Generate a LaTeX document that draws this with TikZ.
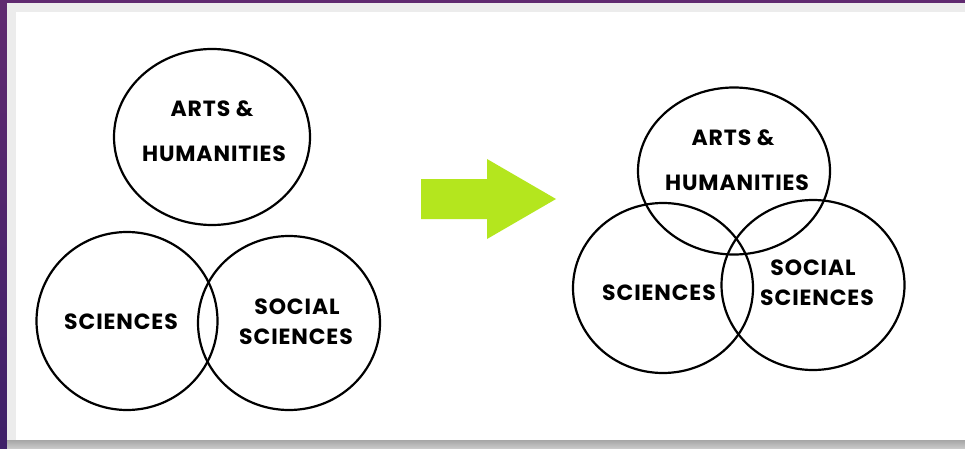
\documentclass[tikz,border=0pt]{standalone}
\usepackage{fontspec}
\setmainfont{Poppins}[LetterSpace=4]
\usetikzlibrary{shapes.geometric}
\definecolor{bgpurple}{RGB}{96,42,112}
\definecolor{bgpurpledark}{RGB}{62,32,104}
\definecolor{arrowgreen}{RGB}{180,230,30}
\definecolor{panelgray}{RGB}{236,236,236}
\tikzset{
  venn/.style={draw=black, line width=2.2pt, ellipse, inner sep=0pt},
  lbl/.style={font=\fontsize{22}{25}\selectfont\bfseries, text=black, inner sep=0pt},
}
\begin{document}
\begin{tikzpicture}[x=1pt,y=-1pt]
\useasboundingbox (0,0) rectangle (965,449);
\shade[top color=bgpurple, bottom color=bgpurpledark] (0,0) rectangle (965,449);
\fill[panelgray] (7,3) rectangle (965,440);
\shade[top color=gray!70, bottom color=gray!40] (7,440) rectangle (965,449);
\fill[white] (16,12) rectangle (965,440);
% left group
\node[venn, minimum width=196pt, minimum height=176pt] (la) at (212,137) {};
\node[venn, minimum width=181pt, minimum height=178pt] (ls) at (127,321) {};
\node[venn, minimum width=182pt, minimum height=174pt] (lo) at (289,323) {};
\node[lbl] (la1) at (212,109) {ARTS \&};
\node[lbl] (la2) at (214,154) {HUMANITIES};
\node[lbl] (ls1) at (121,322) {SCIENCES};
\node[lbl] (lo1) at (297,307) {SOCIAL};
\node[lbl] (lo2) at (296,337) {SCIENCES};
% arrow
\fill[arrowgreen] (421,179) -- (487,179) -- (487,159) -- (556,199) -- (487,239) -- (487,219) -- (421,219) -- cycle;
% right group
\node[venn, minimum width=192pt, minimum height=167pt] (ra) at (734,171) {};
\node[venn, minimum width=180pt, minimum height=170pt] (rs) at (663,288) {};
\node[venn, minimum width=183pt, minimum height=170pt] (ro) at (813,285) {};
\node[lbl] (ra1) at (733,138) {ARTS \&};
\node[lbl] (ra2) at (737,183) {HUMANITIES};
\node[lbl] (rs1) at (659,293) {SCIENCES};
\node[lbl] (ro1) at (813,268) {SOCIAL};
\node[lbl] (ro2) at (817,298) {SCIENCES};
\end{tikzpicture}
\end{document}
